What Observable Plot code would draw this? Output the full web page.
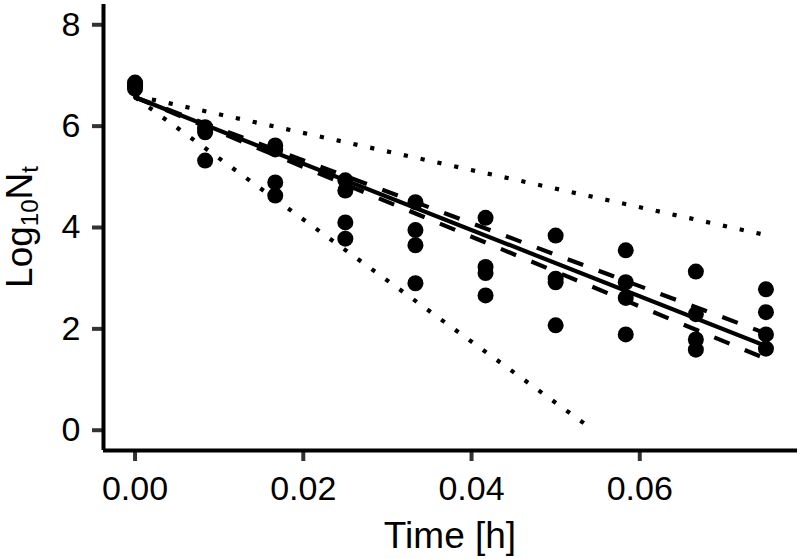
<!DOCTYPE html>
<html>
<head>
<meta charset="utf-8">
<script src="https://cdn.jsdelivr.net/npm/d3@7"></script>
<script src="https://cdn.jsdelivr.net/npm/@observablehq/plot@0.6"></script>
<style>
  html, body { margin: 0; padding: 0; background: #fff; }
  #chart svg { display: block; }
</style>
</head>
<body>
<div id="chart"></div>
<script>
// ---- data ----
const times = [0, 0.008333, 0.016667, 0.025, 0.033333, 0.041667, 0.05, 0.058333, 0.066667, 0.075];
const rep1 = [6.86, 5.98, 5.62, 4.93, 4.50, 4.19, 3.84, 3.55, 3.13, 2.78];
const rep2 = [6.82, 5.93, 5.54, 4.73, 3.95, 3.22, 2.99, 2.92, 2.29, 2.33];
const rep3 = [6.78, 5.88, 4.89, 4.10, 3.65, 3.10, 2.92, 2.61, 1.79, 1.89];
const rep4 = [6.74, 5.32, 4.63, 3.78, 2.90, 2.66, 2.07, 1.89, 1.59, 1.61];

const fitTime = [0, 0.075];
const fitLog = [6.57, 1.66];
const ciUpperLog = [6.57, 1.91];
const ciLowerLog = [6.57, 1.41];

const boundUpperTime = [0, 0.075];
const boundUpperLog = [6.60, 3.85];
const boundLowerTime = [0, 0.0545];
const boundLowerLog = [6.57, 0];

const xTicks = [0, 0.02, 0.04, 0.06];
const yTicks = [0, 2, 4, 6, 8];
const xDomain = [-0.00375, 0.07875];
const yDomain = [-0.4, 8.4];

// ---- tables built from the arrays ----
const points = [];
[rep1, rep2, rep3, rep4].forEach(rep => rep.forEach((v, i) => points.push({t: times[i], logN: v})));
const toLine = (ts, vs) => ts.map((t, i) => ({t, logN: vs[i]}));
const fit = toLine(fitTime, fitLog);
const ciU = toLine(fitTime, ciUpperLog);
const ciL = toLine(fitTime, ciLowerLog);
const bU = toLine(boundUpperTime, boundUpperLog);
const bL = toLine(boundLowerTime, boundLowerLog);

const FONT = "'Liberation Sans', Arial, Helvetica, sans-serif";
const LW = 4.2;

const chart = Plot.plot({
  width: 802,
  height: 559,
  marginLeft: 103,
  marginRight: 5,
  marginTop: 4,
  marginBottom: 109,
  style: {fontFamily: FONT, fontSize: "34px", color: "#000", background: "#fff", overflow: "visible"},
  x: {domain: xDomain},
  y: {domain: yDomain},
  marks: [
    Plot.axisX({ticks: xTicks, tickFormat: d3.format(".2f"), tickSize: 11, tickPadding: 14,
                stroke: "#333333", strokeWidth: 4, fill: "#000", fontSize: 34, label: null}),
    Plot.axisY({ticks: yTicks, tickFormat: d3.format("d"), tickSize: 11, tickPadding: 12,
                stroke: "#333333", strokeWidth: 4, fill: "#000", fontSize: 34, label: null}),
    Plot.dot(points, {x: "t", y: "logN", r: 8, fill: "#000", stroke: null}),
    Plot.line(bU, {x: "t", y: "logN", stroke: "#000", strokeWidth: LW, strokeDasharray: "4.2 13", strokeLinecap: "butt"}),
    Plot.line(bL, {x: "t", y: "logN", stroke: "#000", strokeWidth: LW, strokeDasharray: "4.2 13", strokeLinecap: "butt"}),
    Plot.line(ciU, {x: "t", y: "logN", stroke: "#000", strokeWidth: LW, strokeDasharray: "16.5 16.5", strokeLinecap: "butt"}),
    Plot.line(ciL, {x: "t", y: "logN", stroke: "#000", strokeWidth: LW, strokeDasharray: "16.5 16.5", strokeLinecap: "butt"}),
    Plot.line(fit, {x: "t", y: "logN", stroke: "#000", strokeWidth: LW}),
    Plot.ruleX([xDomain[0]], {stroke: "#000", strokeWidth: 4}),
    Plot.ruleY([yDomain[0]], {stroke: "#000", strokeWidth: 4})
  ]
});

document.getElementById("chart").appendChild(chart);

// axis titles
const svg = d3.select(chart);
svg.append("text")
  .attr("x", 450).attr("y", 548)
  .attr("text-anchor", "middle")
  .attr("font-family", FONT).attr("font-size", 37).attr("fill", "#000")
  .text("Time [h]");

const yt = svg.append("text")
  .attr("transform", "translate(32,227) rotate(-90)")
  .attr("text-anchor", "middle")
  .attr("font-family", FONT).attr("font-size", 37).attr("fill", "#000");
yt.append("tspan").text("Log");
yt.append("tspan").attr("font-size", 24).attr("dy", 6).text("10");
yt.append("tspan").attr("dy", -6).text("N");
yt.append("tspan").attr("font-size", 24).attr("dy", 6).text("t");
</script>
</body>
</html>
